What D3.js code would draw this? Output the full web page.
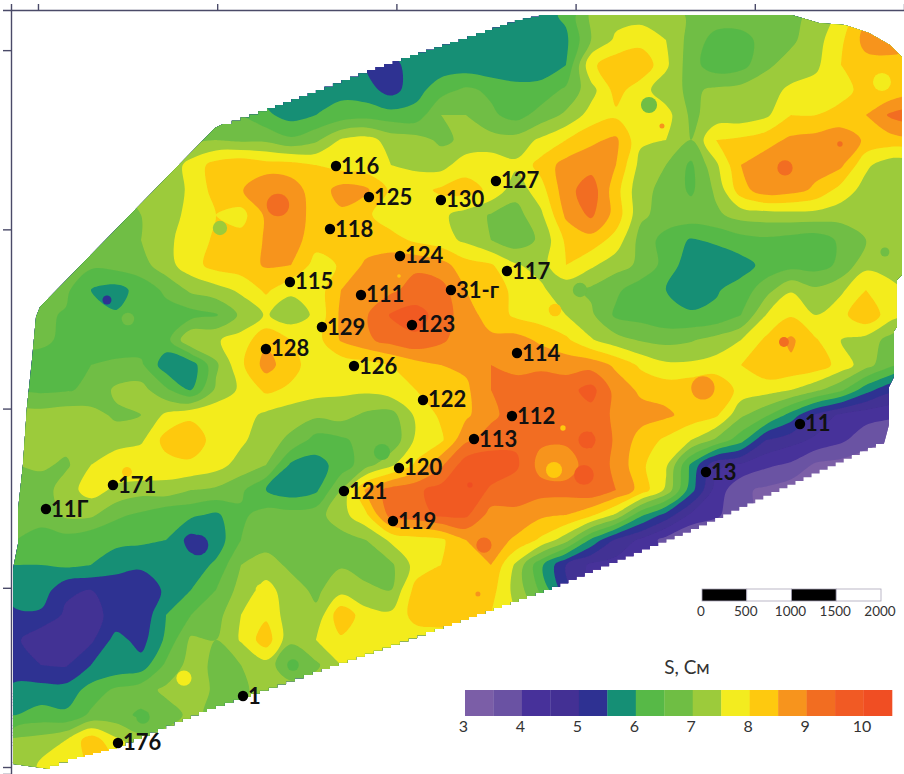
<!DOCTYPE html>

<html>
    <head>
        <meta charset="utf-8">
        <script src="https://d3js.org/d3.v7.min.js"></script>
        <style>
            body { margin: 0; background: #fff; }
            text { font-family: Lato, "Open Sans", sans-serif; }
        </style>
    </head>
    <body>
        <script>
            //Conductance S (Cm), one row per grid line, north to south.
            //Grid lines are 279 m apart, cells outside the survey outline just repeat their neighbour.
            const gridStep = 279;
            const gridX0 = -245;
            const gridY0 = 8392;
            const gridCols = 37;
            const conductance = [
                [5.8,5.8,5.8,5.8,5.8,5.8,5.8,5.8,5.8,5.8,5.8,5.8,5.8,5.8,5.8,5.8,5.8,5.8,5.8,5.8,5.8,5.8,6.1,7.1,7.3,7.3,7.3,6.9,6.8,6.8,6.8,6.8,7.2,7.6,8.4,8.5,8.5],
                [5.8,5.8,5.8,5.8,5.8,5.8,5.8,5.8,5.8,5.8,5.8,5.8,5.8,5.8,5.8,5.8,5.8,5.8,5.7,5.7,5.7,5.7,5.9,7.0,7.6,7.8,7.5,6.8,6.3,6.3,6.7,6.9,7.3,7.9,8.7,8.8,8.6],
                [5.7,5.7,5.7,5.7,5.7,5.7,5.7,5.7,5.7,5.7,5.7,5.7,5.7,5.7,5.5,5.3,5.8,5.7,5.7,5.6,5.6,5.7,6.0,7.9,8.3,8.4,7.6,6.7,6.2,6.3,6.9,7.2,7.4,8.0,8.3,8.3,8.3],
                [6.4,6.4,6.4,6.4,6.4,6.4,6.4,6.4,6.4,6.3,5.8,5.6,5.7,5.85,5.7,5.3,5.8,6.3,6.6,6.4,6.2,6.2,6.6,7.3,8.2,7.7,7.2,6.9,7.1,7.2,7.3,7.6,7.7,7.9,8.1,8.1,8.2],
                [6.7,6.7,6.7,6.7,6.7,6.7,6.7,6.7,6.7,6.5,6.1,5.8,6.0,6.2,6.3,6.2,6.2,7.0,7.0,6.6,6.3,6.7,7.1,7.7,7.9,7.5,7.7,6.9,7.2,7.2,7.4,8.0,8.0,8.1,8.5,9.1,9.3],
                [6.9,6.9,6.9,6.9,6.9,6.9,6.9,6.9,7.0,6.9,6.9,6.6,6.9,7.55,7.7,7.3,7.2,6.9,7.1,7.2,7.2,7.6,8.0,8.4,8.6,7.6,7.5,7.0,8.0,8.1,8.3,8.6,8.7,8.9,8.4,8.3,8.3],
                [7.0,7.0,7.0,7.0,7.0,7.0,7.1,7.7,8.2,8.4,8.2,8.2,8.0,7.8,7.7,7.5,7.4,7.3,7.8,7.8,7.6,8.2,8.7,8.8,8.5,7.3,7.0,6.4,7.4,8.5,8.8,8.9,8.7,8.6,7.6,7.2,7.1],
                [7.0,7.0,7.0,7.0,7.0,7.0,7.2,7.6,8.2,8.45,9.0,8.8,8.2,8.7,8.6,7.9,7.8,8.1,8.2,7.9,7.2,7.8,8.8,9.3,8.2,7.1,6.9,6.4,7.1,8.3,8.8,8.7,8.4,7.8,7.3,7.2,7.1],
                [6.8,6.8,6.8,6.8,6.8,7.0,7.2,7.7,8.0,7.8,8.6,8.8,8.3,8.4,8.1,7.7,7.7,7.6,7.3,6.95,6.8,7.4,8.6,9.1,8.3,7.1,6.8,6.8,6.9,7.2,7.25,7.3,7.3,7.2,7.1,7.1,7.1],
                [6.6,6.6,6.6,6.6,6.8,7.0,7.4,7.7,8.1,8.2,8.55,8.75,8.2,8.2,8.2,8.2,7.9,7.7,7.4,7.0,6.7,7.1,8.1,8.3,7.8,6.8,6.3,5.95,6.1,6.3,6.4,6.3,6.2,6.6,7.0,7.2,7.2],
                [6.5,6.5,6.5,6.6,6.7,6.8,7.3,7.8,8.2,8.3,8.55,8.5,7.8,8.05,8.6,8.8,8.9,8.7,8.2,8.05,7.55,7.3,8.0,7.6,7.2,6.9,6.3,5.7,5.6,5.8,6.15,6.3,6.3,6.6,7.35,7.2,7.2],
                [6.6,6.6,6.6,6.0,5.8,6.2,6.6,7.1,7.3,7.6,8.1,7.6,7.7,8.5,8.8,8.9,9.2,9.2,8.5,8.2,7.9,7.6,7.15,6.9,6.6,6.2,6.0,5.8,5.95,6.2,6.8,7.45,7.1,7.4,8.0,7.7,7.2],
                [6.6,6.6,6.45,6.2,6.05,6.3,6.3,6.3,6.45,7.1,7.55,7.2,7.6,8.6,8.95,9.55,9.7,9.3,8.7,8.3,7.9,7.75,7.5,7.1,6.4,6.3,6.1,6.05,6.1,6.5,7.5,7.95,7.5,7.85,8.4,7.7,7.2],
                [6.6,6.6,6.4,6.2,6.2,6.2,6.3,7.5,7.45,7.7,8.4,8.0,7.8,8.55,8.9,9.2,9.4,9.1,8.7,8.6,8.7,8.4,8.1,7.55,7.2,6.95,6.85,6.95,7.2,7.5,8.1,8.6,8.05,7.5,7.3,6.8,6.5],
                [6.3,6.3,6.3,6.5,6.6,6.6,5.7,5.7,6.9,7.9,8.7,8.2,7.7,7.7,7.8,8.0,8.3,8.5,8.6,9.0,8.8,8.9,8.8,8.8,8.4,7.9,7.6,7.6,7.7,8.0,8.4,8.4,8.3,7.8,7.2,6.6,6.0],
                [6.4,6.4,6.45,6.6,7.1,7.2,6.6,6.0,7.1,7.6,8.1,7.9,7.7,7.6,7.6,7.8,8.0,8.3,8.4,9.0,9.3,9.3,9.3,9.7,8.8,8.4,8.3,8.4,8.5,7.8,7.7,7.5,7.1,6.6,5.7,5.1,5.0],
                [7.2,7.2,7.3,7.2,6.9,7.0,7.6,7.9,7.9,7.7,7.4,7.2,7.1,7.2,6.9,6.8,7.6,8.1,8.4,8.9,9.2,9.3,9.1,9.3,8.9,8.7,8.6,8.3,8.1,7.1,6.6,5.8,4.9,4.4,4.2,4.1,4.0],
                [7.2,7.3,7.2,7.3,7.3,7.4,8.2,8.3,7.8,7.6,7.2,6.9,6.3,6.4,6.7,6.6,7.6,7.9,8.9,9.2,9.4,9.1,9.1,9.6,8.9,8.3,7.9,7.5,6.9,6.2,5.0,4.7,4.4,4.1,3.7,3.5,3.4],
                [7.0,7.1,6.9,7.5,7.8,8.0,7.8,7.9,7.7,7.3,7.0,5.9,5.8,6.2,6.8,7.4,8.1,8.9,9.8,9.9,9.6,8.8,8.7,9.3,8.9,8.1,7.6,5.9,4.6,4.4,4.1,3.9,3.4,3.3,3.2,3.2,3.2],
                [6.5,6.7,7.3,7.7,7.4,7.2,7.3,7.0,6.9,6.6,6.0,5.7,5.9,7.0,8.6,9.2,9.4,9.7,10.0,9.4,9.2,9.2,9.2,9.4,9.0,8.3,7.4,5.7,4.3,3.6,3.4,3.2,3.2,3.2,3.2,3.2,3.2],
                [6.5,6.6,7.1,7.1,6.6,6.4,6.1,6.1,5.9,6.4,6.7,6.7,6.8,7.3,7.9,9.2,9.3,9.6,9.6,8.8,8.9,8.6,8.5,8.1,7.4,6.1,5.3,4.4,4.1,3.6,3.4,3.4,3.4,3.4,3.4,3.4,3.4],
                [6.5,6.4,6.3,6.1,6.1,6.1,6.0,5.3,5.7,6.5,6.8,6.8,6.8,6.8,7.0,7.6,7.8,7.9,8.5,8.8,8.4,7.9,7.2,5.9,4.9,4.4,3.8,3.4,3.4,3.4,3.4,3.4,3.4,3.4,3.4,3.4,3.4],
                [6.0,6.0,6.1,6.0,5.8,5.6,5.7,5.7,6.1,7.0,7.2,6.9,6.8,6.95,6.8,6.9,7.7,8.0,8.1,8.5,7.4,6.1,5.0,4.4,4.3,4.3,4.3,4.3,4.3,4.3,4.3,4.3,4.3,4.3,4.3,4.3,4.3],
                [5.8,5.8,5.1,5.0,5.0,5.1,5.6,6.0,6.5,7.2,7.7,7.2,6.9,7.3,7.1,7.0,8.2,8.4,8.3,8.2,7.3,6.4,5.2,4.5,4.5,4.5,4.5,4.5,4.5,4.5,4.5,4.5,4.5,4.5,4.5,4.5,4.5],
                [5.4,5.4,4.9,4.9,5.1,5.1,6.0,6.5,6.8,7.5,7.9,7.2,7.1,8.4,7.7,7.6,8.2,8.3,8.3,8.0,7.5,7.0,7.0,7.0,7.0,7.0,7.0,7.0,7.0,7.0,7.0,7.0,7.0,7.0,7.0,7.0,7.0],
                [5.1,4.6,4.6,4.9,5.7,5.3,6.1,7.1,7.0,7.55,8.3,7.1,7.5,7.9,7.8,7.7,7.7,7.7,7.7,7.7,7.7,7.7,7.7,7.7,7.7,7.7,7.7,7.7,7.7,7.7,7.7,7.7,7.7,7.7,7.7,7.7,7.7],
                [5.1,5.0,4.95,5.5,5.6,5.7,6.6,7.2,6.9,7.0,7.3,6.5,6.9,7.5,7.6,7.6,7.6,7.6,7.6,7.6,7.6,7.6,7.6,7.6,7.6,7.6,7.6,7.6,7.6,7.6,7.6,7.6,7.6,7.6,7.6,7.6,7.6],
                [5.7,5.7,5.7,6.2,6.6,6.8,7.1,7.3,6.9,6.9,7.2,7.3,7.3,7.3,7.3,7.3,7.3,7.3,7.3,7.3,7.3,7.3,7.3,7.3,7.3,7.3,7.3,7.3,7.3,7.3,7.3,7.3,7.3,7.3,7.3,7.3,7.3],
                [6.0,6.2,6.1,6.6,6.7,6.4,6.8,7.1,6.9,7.0,7.0,7.0,7.0,7.0,7.0,7.0,7.0,7.0,7.0,7.0,7.0,7.0,7.0,7.0,7.0,7.0,7.0,7.0,7.0,7.0,7.0,7.0,7.0,7.0,7.0,7.0,7.0],
                [7.1,7.2,7.5,8.3,7.6,7.2,7.2,7.2,7.2,7.2,7.2,7.2,7.2,7.2,7.2,7.2,7.2,7.2,7.2,7.2,7.2,7.2,7.2,7.2,7.2,7.2,7.2,7.2,7.2,7.2,7.2,7.2,7.2,7.2,7.2,7.2,7.2],
                [7.0,7.6,7.7,8.1,8.0,7.8,7.8,7.8,7.8,7.8,7.8,7.8,7.8,7.8,7.8,7.8,7.8,7.8,7.8,7.8,7.8,7.8,7.8,7.8,7.8,7.8,7.8,7.8,7.8,7.8,7.8,7.8,7.8,7.8,7.8,7.8,7.8],
                [7.0,7.6,7.7,8.1,8.0,7.8,7.8,7.8,7.8,7.8,7.8,7.8,7.8,7.8,7.8,7.8,7.8,7.8,7.8,7.8,7.8,7.8,7.8,7.8,7.8,7.8,7.8,7.8,7.8,7.8,7.8,7.8,7.8,7.8,7.8,7.8,7.8]
            ];

            //Band edges and legend colours:
            const levels = [3,3.5,4,4.5,5,5.5,6,6.5,7,7.5,8,8.5,9,9.5,10];
            const bandColors = ["#7b5ea7","#6a52a3","#47319a","#433094","#2e3192","#158f75","#57b947","#6fbe44","#9ccb3b","#f3ec1f","#fec90f","#f7941d","#f26d21","#f15a24","#f04e23"];
            const legendTicks = [3,4,5,6,7,8,9,10];

            //Small closed anomalies too tight for the grid (x, y, radius in m, S):
            const spotX = [2031,770,1004,6819,6964,9419,8337,8950,9452,6049,5770,8325,1629,1786,2846,1172,993,3839,2500,5759,5859,6127,6093,4977,4821,4029,4910,2678,7421];
            const spotY = [6015,5212,5000,7388,7154,7645,6685,6953,5747,5323,5100,4743,993,2477,1138,558,3292,3515,1975,3315,3783,3649,3259,2477,3147,5480,1931,6272,4230];
            const spotR = [80,50,70,90,28,100,85,30,50,80,70,55,85,115,65,75,55,90,70,90,30,95,110,85,30,20,28,125,130];
            const spotS = [7.2,5.2,6.7,6.8,8.7,7.8,9.2,9.2,6.8,6.8,8.2,9.2,7.7,5.3,6.4,6.4,8.2,6.4,7.7,8.2,8.2,9.6,9.6,9.2,10.2,8.2,8.8,9.2,8.7];

            //Wells:
            const wellNames = ["116","125","127","130","118","124","117","115","111","31-г","129","123","128","126","114","122","112","113","120","171","121","11Г","119","11","13","1","176"];
            const wellX = [3326,3694,5111,4497,3259,4040,5234,2812,3605,4609,3169,4174,2544,3527,5346,4297,5290,4866,4029,837,3415,89,3962,8504,7455,2288,893];
            const wellY = [6707,6361,6540,6328,6004,5703,5535,5413,5268,5323,4910,4933,4665,4475,4620,4096,3917,3660,3337,3147,3080,2879,2745,3828,3292,792,268];

            //Survey outline in m; the sawtooth parts come from the blanking grid:
            const outlineX = [22,1975,2065,2556,3102,3672,4152,4598,4989,5323,5591,8415,8716,9006,9274,9508,9642,9642,9586,9586,9553,9553,9497,9497,9441,7377,5736,4620,3259,1886,882,435,134,-279,-279,-223,-223,-167,-123,-67,-22];
            const outlineY = [5134,7131,7176,7354,7555,7779,7946,8091,8225,8337,8392,8392,8303,8281,8191,8058,7924,5491,5435,4910,4866,4352,4241,3817,3605,2656,1975,1574,1094,614,201,89,-22,33,2210,2489,2868,3381,4018,4542,5022];
            const jaggedFrom = [2, 24];
            const jaggedTo = [10, 32];

            //Axes carry ticks only, no numbers:
            const axisTicks = [0,2000,4000,6000,8000];
            const scaleBarValues = [0,500,1000,1500,2000];

            const width = 904;
            const height = 774;

            const x = d3.scaleLinear().domain([-301,9665]).range([11,904]);
            const y = d3.scaleLinear().domain([-78,8448]).range([774,10]);
            const color = d3.scaleThreshold().domain(levels.slice(1)).range(bandColors);

            const svg = d3.select("body").append("svg")
                .attr("width", width)
                .attr("height", height);

            const defs = svg.append("defs");
            defs.append("filter").attr("id", "soft")
                .append("feGaussianBlur").attr("stdDeviation", 0.6);

            //Build the clip outline, turn flagged stretches into stairs about 9px long
            function buildOutline() {
                let pts = [];
                for (let i = 0; i < outlineX.length; i++) {
                    let j = (i + 1) % outlineX.length;
                    let x0 = x(outlineX[i]), y0 = y(outlineY[i]);
                    let x1 = x(outlineX[j]), y1 = y(outlineY[j]);
                    let jagged = jaggedFrom.some(function (f, k) { return i >= f && i < jaggedTo[k]; });
                    if (!jagged) {
                        pts.push([x0, y0]);
                        continue;
                    }
                    let n = Math.max(1, Math.round(Math.hypot(x1 - x0, y1 - y0) / 9));
                    for (let k = 0; k < n; k++) {
                        let ax = x0 + (x1 - x0) * k / n;
                        let ay = y0 + (y1 - y0) * k / n;
                        let bx = x0 + (x1 - x0) * (k + 1) / n;
                        pts.push([ax, ay]);
                        pts.push([bx, ay]);
                    }
                }
                return pts;
            }

            defs.append("clipPath").attr("id", "survey")
                .append("path")
                .attr("d", d3.line().curve(d3.curveLinearClosed)(buildOutline()));

            //Filled bands, lowest first so the higher ones paint on top
            const contours = d3.contours()
                .size([gridCols, conductance.length])
                .thresholds(levels)(conductance.flat());

            const ringLine = d3.line()
                .curve(d3.curveCatmullRomClosed.alpha(0.5))
                .x(function (p) { return x(gridX0 + (p[0] - 0.5) * gridStep); })
                .y(function (p) { return y(gridY0 - (p[1] - 0.5) * gridStep); });

            function bandPath(c) {
                let d = "";
                c.coordinates.forEach(function (polygon) {
                    polygon.forEach(function (ring) {
                        d += ringLine(ring.slice(0, -1));
                    });
                });
                return d;
            }

            const map = svg.append("g")
                .attr("filter", "url(#soft)")
                .append("g")
                .attr("clip-path", "url(#survey)");

            map.selectAll("path.band")
                .data(contours)
                .enter()
                .append("path")
                .attr("class", "band")
                .attr("d", bandPath)
                .attr("fill-rule", "evenodd")
                .attr("fill", function (c) { return color(c.value); });

            map.selectAll("circle.spot")
                .data(spotS)
                .enter()
                .append("circle")
                .attr("class", "spot")
                .attr("cx", function (d, i) { return x(spotX[i]); })
                .attr("cy", function (d, i) { return y(spotY[i]); })
                .attr("r", function (d, i) { return x(spotR[i]) - x(0); })
                .attr("fill", function (d) { return color(d); });

            //Frame and tick marks
            const topAxis = svg.append("g")
                .attr("transform", "translate(0,10)")
                .call(d3.axisTop(x).tickValues(axisTicks).tickFormat("").tickSizeOuter(0).tickSize(6));
            const leftAxis = svg.append("g")
                .attr("transform", "translate(11,0)")
                .call(d3.axisLeft(y).tickValues(axisTicks).tickFormat("").tickSizeOuter(0).tickSize(8));
            svg.selectAll(".domain, .tick line")
                .attr("stroke", "#4a4a68")
                .attr("stroke-width", 1.4);

            //Wells
            const wells = svg.selectAll("g.well")
                .data(wellNames)
                .enter()
                .append("g")
                .attr("class", "well")
                .attr("transform", function (d, i) {
                    return "translate(" + x(wellX[i]) + "," + y(wellY[i]) + ")";
                });
            wells.append("circle").attr("r", 5.2).attr("fill", "#000");
            wells.append("text")
                .attr("x", 5)
                .attr("y", 7.5)
                .attr("font-size", 22)
                .attr("font-weight", 700)
                .attr("fill", "#111")
                .text(function (d) { return d; });

            //Scale bar
            const bar = d3.scaleLinear().domain([0,2000]).range([702,881]);
            svg.selectAll("rect.scale")
                .data(scaleBarValues.slice(0, -1))
                .enter()
                .append("rect")
                .attr("class", "scale")
                .attr("x", function (d) { return bar(d); })
                .attr("y", 589)
                .attr("width", function (d) { return bar(d + 500) - bar(d); })
                .attr("height", 12)
                .attr("fill", function (d, i) { return i % 2 ? "#fff" : "#000"; })
                .attr("stroke", "#aaa6b8")
                .attr("stroke-width", 0.8);
            svg.selectAll("text.scale")
                .data(scaleBarValues)
                .enter()
                .append("text")
                .attr("class", "scale")
                .attr("x", function (d) { return bar(d) - 1; })
                .attr("y", 616)
                .attr("text-anchor", "middle")
                .attr("font-size", 13.5)
                .attr("fill", "#333")
                .text(function (d) { return d; });

            //Colour legend
            const legend = d3.scaleLinear().domain([3,10.5]).range([465,892]);
            svg.selectAll("rect.key")
                .data(levels)
                .enter()
                .append("rect")
                .attr("class", "key")
                .attr("x", function (d) { return legend(d); })
                .attr("y", 690)
                .attr("width", function (d) { return legend(d + 0.5) - legend(d) + 0.3; })
                .attr("height", 26)
                .attr("fill", function (d) { return color(d); });
            const legendAxis = svg.append("g")
                .attr("transform", "translate(-2,716)")
                .call(d3.axisBottom(legend).tickValues(legendTicks).tickSize(0).tickPadding(5));
            legendAxis.select(".domain").remove();
            legendAxis.selectAll("text")
                .attr("font-size", 16)
                .attr("font-family", "Lato, 'Open Sans', sans-serif")
                .attr("fill", "#333");
            svg.append("text")
                .attr("x", 687)
                .attr("y", 674)
                .attr("text-anchor", "middle")
                .attr("font-size", 19)
                .attr("fill", "#333")
                .text("S, См");
        </script>
    </body>
</html>
